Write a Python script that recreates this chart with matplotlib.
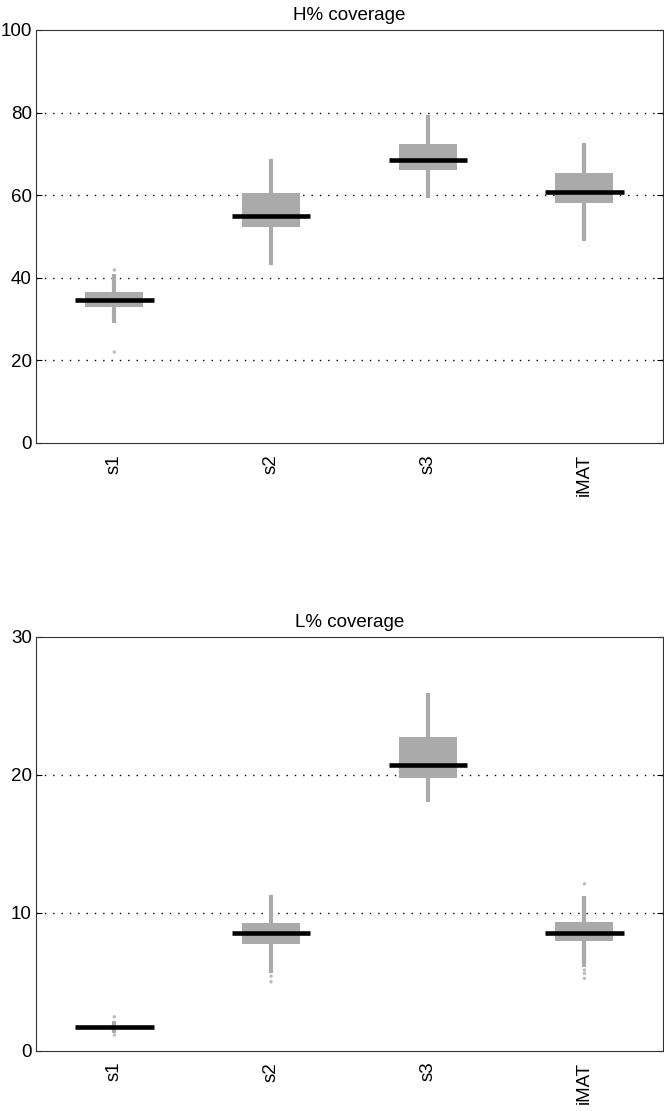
import matplotlib
matplotlib.use("Agg")
import matplotlib.pyplot as plt
import numpy as np

plt.rcParams['font.family'] = ['Liberation Sans', 'DejaVu Sans']

labels = ["s1", "s2", "s3", "iMAT"]

# H% coverage: whisker low, q1, median, q3, whisker high
h_wlo = [29.0, 43.0, 59.3, 49.0]
h_q1 = [33.0, 52.4, 66.0, 58.1]
h_med = [34.5, 54.9, 68.4, 60.8]
h_q3 = [36.5, 60.6, 72.4, 65.4]
h_whi = [41.0, 68.7, 79.4, 72.7]
h_out = [[41.9, 22.0], [], [], []]

# L% coverage
l_wlo = [1.3, 5.65, 18.0, 6.1]
l_q1 = [1.6, 7.7, 19.76, 7.95]
l_med = [1.69, 8.55, 20.75, 8.53]
l_q3 = [1.78, 9.23, 22.78, 9.32]
l_whi = [2.17, 11.28, 25.9, 11.23]
l_out = [[2.46, 1.13], [5.4, 5.0], [], [12.1, 5.85, 5.6, 5.24]]

box_c = "#aaaaaa"


def draw(ax, wlo, q1, med, q3, whi, out, title, ymax, yticks):
    pos = np.arange(1, len(labels) + 1)
    ax.vlines(pos, wlo, whi, color=box_c, lw=3, zorder=2)
    ax.bar(pos, np.array(q3) - np.array(q1), bottom=q1, width=0.37,
           color=box_c, edgecolor="none", zorder=3)
    ax.hlines(med, pos - 0.25, pos + 0.25, color="black", lw=3.3, zorder=4)
    for p, o in zip(pos, out):
        if o:
            ax.scatter([p] * len(o), o, s=6, color="#bbbbbb", zorder=2,
                       edgecolors="none")
    ax.set_xlim(0.5, 4.5)
    ax.set_ylim(0, ymax)
    ax.set_yticks(yticks)
    ax.set_xticks(pos)
    ax.set_xticklabels(labels, rotation=90, fontsize=13.5)
    ax.tick_params(axis="y", labelsize=13.5, direction="in", right=True,
                   length=4, pad=3)
    ax.tick_params(axis="x", length=0, pad=8)
    for yv in yticks[1:-1]:
        ax.axhline(yv, color="black", lw=1, ls=(0, (1, 5)), zorder=1)
    ax.set_title(title, fontsize=13.5, pad=7)
    for s in ax.spines.values():
        s.set_color("#333333")


fig = plt.figure(figsize=(6.64, 11.11), dpi=100)
ax1 = fig.add_axes([0.0542, 0.6013, 0.944, 0.3717])
ax2 = fig.add_axes([0.0542, 0.0543, 0.944, 0.3724])

draw(ax1, h_wlo, h_q1, h_med, h_q3, h_whi, h_out, "H% coverage", 100,
     [0, 20, 40, 60, 80, 100])
draw(ax2, l_wlo, l_q1, l_med, l_q3, l_whi, l_out, "L% coverage", 30,
     [0, 10, 20, 30])

fig.savefig("out.png", dpi=100)
